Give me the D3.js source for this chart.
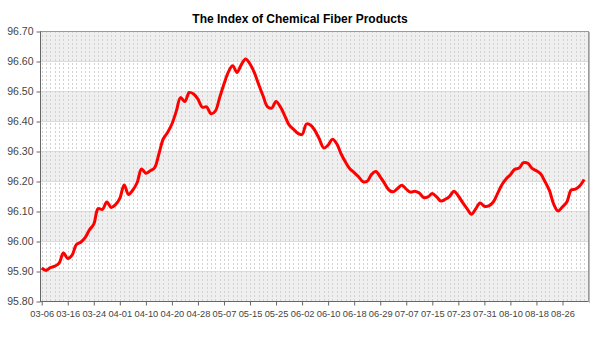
<!DOCTYPE html>
<html>
<head>
<meta charset="utf-8">
<script src="https://cdn.jsdelivr.net/npm/d3@7"></script>
<style>
  body { margin: 0; background: #fff; }
  svg { display: block; font-family: "Liberation Sans", Arial, sans-serif; }
</style>
</head>
<body>
<svg id="chart" width="600" height="350"></svg>
<script>
/* Data: one value per trading day, label every 6th day */
var values = [
    95.910, 95.902, 95.911, 95.916, 95.926, 95.960, 95.942, 95.953, 95.988, 95.996,
    96.011, 96.037, 96.056, 96.108, 96.105, 96.130, 96.112, 96.121, 96.142, 96.187,
    96.155, 96.170, 96.195, 96.240, 96.226, 96.234, 96.244, 96.290, 96.340, 96.362,
    96.390, 96.432, 96.478, 96.465, 96.495, 96.490, 96.473, 96.446, 96.447, 96.424,
    96.433, 96.478, 96.523, 96.563, 96.584, 96.562, 96.588, 96.607, 96.590, 96.561,
    96.522, 96.484, 96.448, 96.443, 96.465, 96.447, 96.418, 96.387, 96.373, 96.359,
    96.355, 96.390, 96.386, 96.367, 96.339, 96.310, 96.320, 96.339, 96.324, 96.290,
    96.263, 96.241, 96.228, 96.214, 96.198, 96.199, 96.222, 96.232, 96.214, 96.192,
    96.170, 96.164, 96.175, 96.186, 96.173, 96.163, 96.166, 96.160, 96.145, 96.147,
    96.158, 96.147, 96.133, 96.139, 96.149, 96.166, 96.150, 96.128, 96.108, 96.089,
    96.107, 96.127, 96.116, 96.117, 96.129, 96.157, 96.187, 96.207, 96.221, 96.239,
    96.243, 96.261, 96.259, 96.242, 96.234, 96.223, 96.197, 96.168, 96.122, 96.100,
    96.114, 96.130, 96.170, 96.173, 96.184, 96.205
];
var tickLabels = ['03-06', '03-16', '03-24', '04-01', '04-10', '04-20', '04-28', '05-07',
    '05-15', '05-25', '06-02', '06-10', '06-18', '06-29', '07-07', '07-15', '07-23',
    '07-31', '08-10', '08-18', '08-26'];
var labelStep = 6;
var yTicks = [95.80, 95.90, 96.00, 96.10, 96.20, 96.30, 96.40, 96.50, 96.60, 96.70];

function drawChart() {
    var svg = d3.select("#chart");
    var pLeft = 40, pRight = 588, pTop = 31, pBottom = 301;

    var x = d3.scaleLinear()
        .domain([0, values.length - 1])
        .range([41.7, 584.2]);
    var y = d3.scaleLinear()
        .domain([95.80, 96.70])
        .range([pBottom, pTop]);

    /* title */
    svg.append("text")
        .attr("x", 300).attr("y", 23)
        .attr("text-anchor", "middle")
        .style("font-size", "12px")
        .style("font-weight", "bold")
        .text("The Index of Chemical Fiber Products");

    /* plot background + alternating bands */
    svg.append("rect")
        .attr("x", pLeft).attr("y", pTop)
        .attr("width", pRight - pLeft).attr("height", pBottom - pTop)
        .attr("fill", "#fff");

    svg.selectAll("rect.band")
        .data(yTicks.slice(0, -1).filter(function(d, i) { return i % 2 == 0; }))
        .enter().append("rect")
        .attr("class", "band")
        .attr("x", pLeft)
        .attr("width", pRight - pLeft)
        .attr("y", function(d) { return y(d + 0.1); })
        .attr("height", function(d) { return y(d) - y(d + 0.1); })
        .attr("fill", "#efefef");

    /* horizontal grid */
    svg.selectAll("line.hgrid")
        .data(yTicks)
        .enter().append("line")
        .attr("class", "hgrid")
        .attr("x1", pLeft).attr("x2", pRight)
        .attr("y1", function(d) { return Math.round(y(d)) + 0.5; })
        .attr("y2", function(d) { return Math.round(y(d)) + 0.5; })
        .attr("stroke", "#dcdcdc");

    /* vertical dashed grid, one per category */
    svg.selectAll("line.vgrid")
        .data(d3.range(values.length))
        .enter().append("line")
        .attr("class", "vgrid")
        .attr("x1", function(d) { return Math.round(x(d)) + 0.5; })
        .attr("x2", function(d) { return Math.round(x(d)) + 0.5; })
        .attr("y1", pTop).attr("y2", pBottom)
        .attr("stroke", "#d2d2d2")
        .attr("stroke-dasharray", "2,2");

    /* plot outline */
    svg.append("rect")
        .attr("x", pLeft + 0.5).attr("y", pTop + 0.5)
        .attr("width", pRight - pLeft).attr("height", pBottom - pTop)
        .attr("fill", "none")
        .attr("stroke", "#999");
    svg.append("line")
        .attr("x1", pRight + 1.5).attr("x2", pRight + 1.5)
        .attr("y1", pTop + 1).attr("y2", pBottom + 2)
        .attr("stroke", "#bbb");

    /* axes */
    var yAxis = d3.axisLeft(y)
        .tickValues(yTicks)
        .tickSize(4)
        .tickFormat(d3.format(".2f"));
    var gy = svg.append("g")
        .attr("transform", "translate(" + (pLeft + 0.5) + ",0.5)")
        .call(yAxis);

    var xAxis = d3.axisBottom(x)
        .tickValues(d3.range(tickLabels.length).map(function(i) { return i * labelStep; }))
        .tickSize(4)
        .tickFormat(function(d) { return tickLabels[d / labelStep]; });
    var gx = svg.append("g")
        .attr("transform", "translate(0," + (pBottom + 0.5) + ")")
        .call(xAxis);

    [gx, gy].forEach(function(g) {
        g.select(".domain").attr("stroke", "#666");
        g.selectAll(".tick line").attr("stroke", "#666");
        g.selectAll("text")
            .attr("fill", "#444")
            .style("font-family", "'Liberation Sans', Arial, sans-serif");
    });
    gx.select(".domain").attr("d", "M" + pLeft + ",0H" + pRight);
    gy.select(".domain").attr("d", "M0," + pTop + "V" + pBottom);
    gy.selectAll("text").style("font-size", "10.5px");
    gx.selectAll("text").style("font-size", "9.3px").attr("dy", "0.9em");

    /* the series */
    var line = d3.line()
        .x(function(d, i) { return x(i); })
        .y(function(d) { return y(d); })
        .curve(d3.curveCatmullRom);

    svg.append("path")
        .datum(values)
        .attr("d", line)
        .attr("fill", "none")
        .attr("stroke", "#ff0000")
        .attr("stroke-width", 3)
        .attr("stroke-linejoin", "round");
}

drawChart();
</script>
</body>
</html>
